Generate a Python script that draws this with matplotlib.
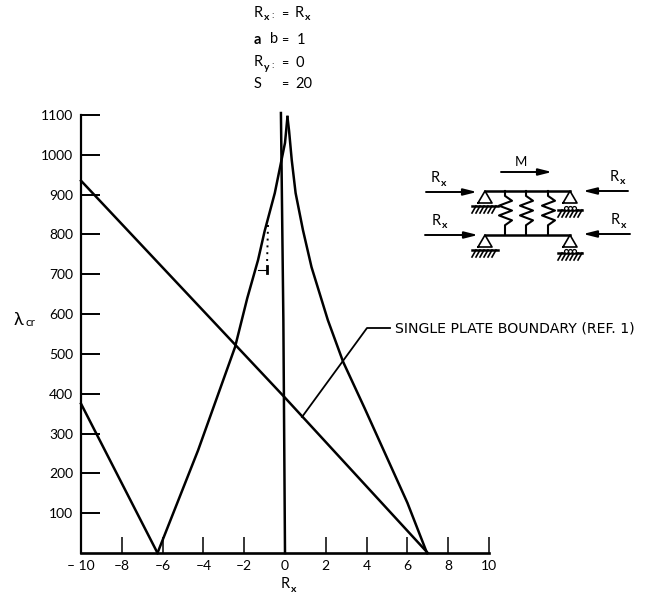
import matplotlib
matplotlib.use("Agg")
import matplotlib.pyplot as plt
import numpy as np

plt.rcParams['font.family'] = ['Lato', 'DejaVu Sans']

W, H = 653, 596

# curves
left_x = [-10, -8.9, -6.25]
left_y = [375, 265, 0]
rise_x = [-6.25, -4.26, -2.45, -1.85, -1.32, -1.0, -0.5, -0.25, 0.0, 0.12]
rise_y = [0, 258, 517, 640, 736, 808, 904, 967, 1030, 1095]
fall_x = [0.12, 0.2, 0.33, 0.52, 0.88, 1.3, 2.1, 2.85, 3.9, 6.0, 6.96]
fall_y = [1095, 1060, 987, 904, 811, 718, 585, 480, 364, 126, 0]
diag_x = [-10, 0, 7]
diag_y = [935, 390, 0]
vert_x = [0, -0.08, -0.2]
vert_y = [0, 585, 1105]

x_ticks = [-8, -6, -4, -2, 0, 2, 4, 6, 8, 10]
x_all = [-10] + x_ticks
x_labels = ['\u2013 10', '\u20138', '\u20136', '\u20134', '\u20132', '0', '2', '4', '6', '8', '10']
y_ticks = [100, 200, 300, 400, 500, 600, 700, 800, 900, 1000, 1100]


def px(x0, x1, y0, y1):
    return [x0 / W, 1 - y1 / H, (x1 - x0) / W, (y1 - y0) / H]


def rsub(ov, x, y, sub='x', fs=10.5):
    ov.text(x, y, 'R', fontsize=fs, ha='left', va='center', color='black')
    ov.text(x + 9.5, y + 5, sub, fontsize=fs - 3, fontweight='bold', ha='left', va='center', color='black')


def support(ov, x, y, tri_h, ground, half, rollers=False):
    ov.plot([x - 7, x, x + 7, x - 7], [y + tri_h, y, y + tri_h, y + tri_h], color='black', lw=1.2)
    ov.plot([x - half, x + half], [ground, ground], color='black', lw=1.8)
    for hx in np.arange(x - half + 4, x + half + 2, 4):
        ov.plot([hx, hx - 4], [ground, ground + 7], color='black', lw=1.2)
    if rollers:
        for rx in (x - 4, x, x + 4):
            ov.plot([rx], [ground - 2.5], 'o', ms=2.8, mfc='white', mec='black', mew=0.9)


def spring(ov, x, top, bot):
    dy = (bot - top) / 9
    xs = [x, x, x + 7, x - 6, x + 7, x - 6, x + 7, x, x]
    ys = [top, top + dy, top + 2 * dy, top + 3 * dy, top + 4 * dy, top + 5 * dy, top + 6 * dy, top + 7 * dy, bot]
    ov.plot(xs, ys, color='black', lw=1.5)


def arrow(ov, x0, x1, y):
    ov.annotate('', xy=(x1, y), xytext=(x0, y),
                arrowprops=dict(arrowstyle='-|>,head_length=0.8,head_width=0.2', color='black', lw=1.4, shrinkA=0, shrinkB=0))


fig = plt.figure(figsize=(W / 100, H / 100), dpi=100)
ax = fig.add_axes(px(81, 489, 115, 553))
ax.set_xlim(-10, 10)
ax.set_ylim(0, 1100)

for xs, ys in [(left_x, left_y), (rise_x, rise_y), (fall_x, fall_y), (diag_x, diag_y), (vert_x, vert_y)]:
    ax.plot(xs, ys, color='black', lw=1.8, clip_on=False)

ax.spines['top'].set_visible(False)
ax.spines['right'].set_visible(False)
ax.spines['left'].set_linewidth(1.6)
ax.spines['bottom'].set_linewidth(1.9)
ax.set_xticks(x_all)
ax.set_xticklabels(x_labels)
ax.set_yticks(y_ticks)
ax.tick_params(axis='x', direction='in', length=11.5, width=1.1, pad=5, labelsize=10)
ax.tick_params(axis='y', direction='in', length=14, width=1.4, pad=5.5, labelsize=10)
ax.patch.set_alpha(0)

# overlay in pixel coords for the notes and the sketch
ov = fig.add_axes([0, 0, 1, 1])
ov.set_xlim(0, W)
ov.set_ylim(H, 0)
ov.axis('off')

# header block
rsub(ov, 254, 13)
ov.text(273, 15, ':', fontsize=7, ha='center', va='center')
ov.text(285, 14, '=', fontsize=9, ha='center', va='center')
rsub(ov, 295, 13)
ov.text(254, 40, 'a', fontsize=10.5, fontweight='bold', ha='left', va='center')
ov.text(270, 39, 'b', fontsize=10.5, ha='left', va='center')
ov.text(285, 40, '=', fontsize=9, ha='center', va='center')
ov.text(297, 40, '1', fontsize=10.5, ha='left', va='center')
rsub(ov, 254, 62, 'y')
ov.text(273, 65, ':', fontsize=7, ha='center', va='center')
ov.text(285, 63, '=', fontsize=9, ha='center', va='center')
ov.text(295, 63, '0', fontsize=10.5, ha='left', va='center')
ov.text(254, 84, 'S', fontsize=10.5, ha='left', va='center')
ov.text(285, 84, '=', fontsize=9, ha='center', va='center')
ov.text(295, 84, '20', fontsize=10.5, ha='left', va='center')

# axis names
ov.text(14, 320, '\u03bb', fontsize=13, ha='left', va='center')
ov.text(25, 322, 'cr', fontsize=8.5, ha='left', va='center')
rsub(ov, 281, 584)

# boundary note
ov.plot([302, 367, 390], [417, 328, 328], color='black', lw=1.3)
ov.text(395, 328, 'SINGLE PLATE BOUNDARY (REF. 1)', fontsize=10.2, family='DejaVu Sans', ha='left', va='center')

# scan marks beside the curve
ov.plot([268, 267], [225, 266], color='black', lw=1.4, ls=(0, (1, 2.5)))
ov.plot([267, 267], [266, 273], color='black', lw=2.0)
ov.plot([258, 266], [270, 270], color='black', lw=0.8)

# sketch
for y in (191, 235):
    ov.plot([485, 570], [y, y], color='black', lw=1.8)
for x in (505, 526, 548):
    spring(ov, x, 191, 235)
support(ov, 485, 191, 12, 206, 13)
support(ov, 570, 191, 12, 210, 12, rollers=True)
support(ov, 485, 235, 12, 250, 13)
support(ov, 570, 235, 12, 253, 12, rollers=True)
arrow(ov, 501, 552, 172)
arrow(ov, 426, 477, 192)
arrow(ov, 425, 478, 235)
arrow(ov, 628, 583, 191)
arrow(ov, 630, 583, 234)
ov.text(521, 162, 'M', fontsize=9.5, ha='center', va='center')
rsub(ov, 431, 178)
rsub(ov, 432, 221)
rsub(ov, 610, 177)
rsub(ov, 611, 220)

fig.savefig('out.png', dpi=100)
